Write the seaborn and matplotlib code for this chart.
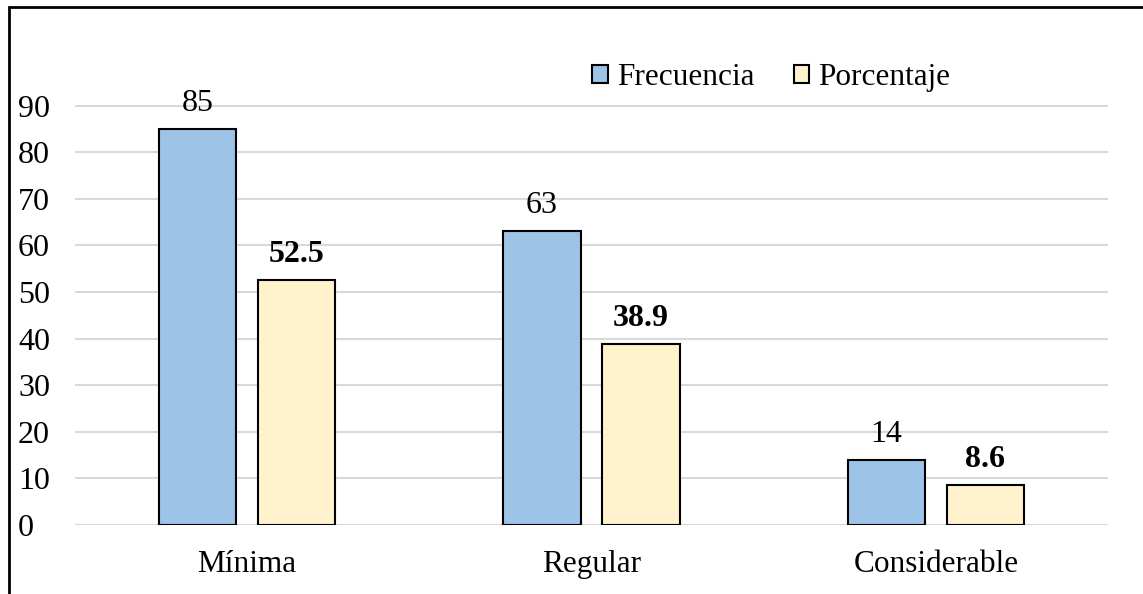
import pandas as pd
import matplotlib.pyplot as plt
import seaborn as sns
from matplotlib.patches import Rectangle

categories = ["Mínima", "Regular", "Considerable"]
frecuencia = [85, 63, 14]
porcentaje = [52.5, 38.9, 8.6]
series = ["Frecuencia", "Porcentaje"]
yticks = [0, 10, 20, 30, 40, 50, 60, 70, 80, 90]

df = pd.DataFrame({
    "Categoria": categories * 2,
    "Valor": frecuencia + porcentaje,
    "Serie": [series[0]] * 3 + [series[1]] * 3,
})

sns.set_style("white")
plt.rcParams['font.family'] = ['Liberation Serif', 'DejaVu Serif']
plt.rcParams['text.color'] = 'black'
plt.rcParams['xtick.color'] = 'black'
plt.rcParams['ytick.color'] = 'black'

fig = plt.figure(figsize=(11.43, 5.94), dpi=100)
ax = fig.add_axes([75 / 1143, 1 - 525 / 594, 1033 / 1143, 466 / 594])

sns.barplot(data=df, x="Categoria", y="Valor", hue="Serie",
            palette=["#9dc3e6", "#fff2cc"], saturation=1, edgecolor="black",
            linewidth=1.5, width=0.575, gap=0.22, ax=ax, zorder=3)

ax.set_xlim(-0.5, 2.5)
ax.set_ylim(0, 100)
ax.set_yticks(yticks)
ax.set_yticklabels([str(t) for t in yticks], fontsize=23)
ax.tick_params(axis="x", labelsize=22.5, length=0, pad=18)
ax.tick_params(axis="y", length=0, pad=41)
for lab in ax.get_yticklabels():
    lab.set_horizontalalignment("left")
ax.set_xlabel("")
ax.set_ylabel("")
for t in yticks:
    ax.axhline(t, color="#d9d9d9", lw=1.5, zorder=0)
for s in ax.spines.values():
    s.set_visible(False)

ax.bar_label(ax.containers[0], labels=[str(v) for v in frecuencia], fontsize=23, padding=8)
ax.bar_label(ax.containers[1], labels=[str(v) for v in porcentaje], fontsize=23,
             fontweight="bold", padding=8)

ax.legend(loc="upper left", bbox_to_anchor=((592 - 75) / 1033, 0.992), ncol=2, frameon=False,
          fontsize=22.5, handlelength=0.5, handleheight=0.5, handletextpad=0.3,
          columnspacing=1.25, borderaxespad=0, borderpad=0)

fig.patches.append(Rectangle((9 / 1143, -0.05), 1.2, 1 - 7 / 594 + 0.05,
                             transform=fig.transFigure, fill=False,
                             edgecolor="black", lw=2))

fig.savefig("out.png", dpi=100)
